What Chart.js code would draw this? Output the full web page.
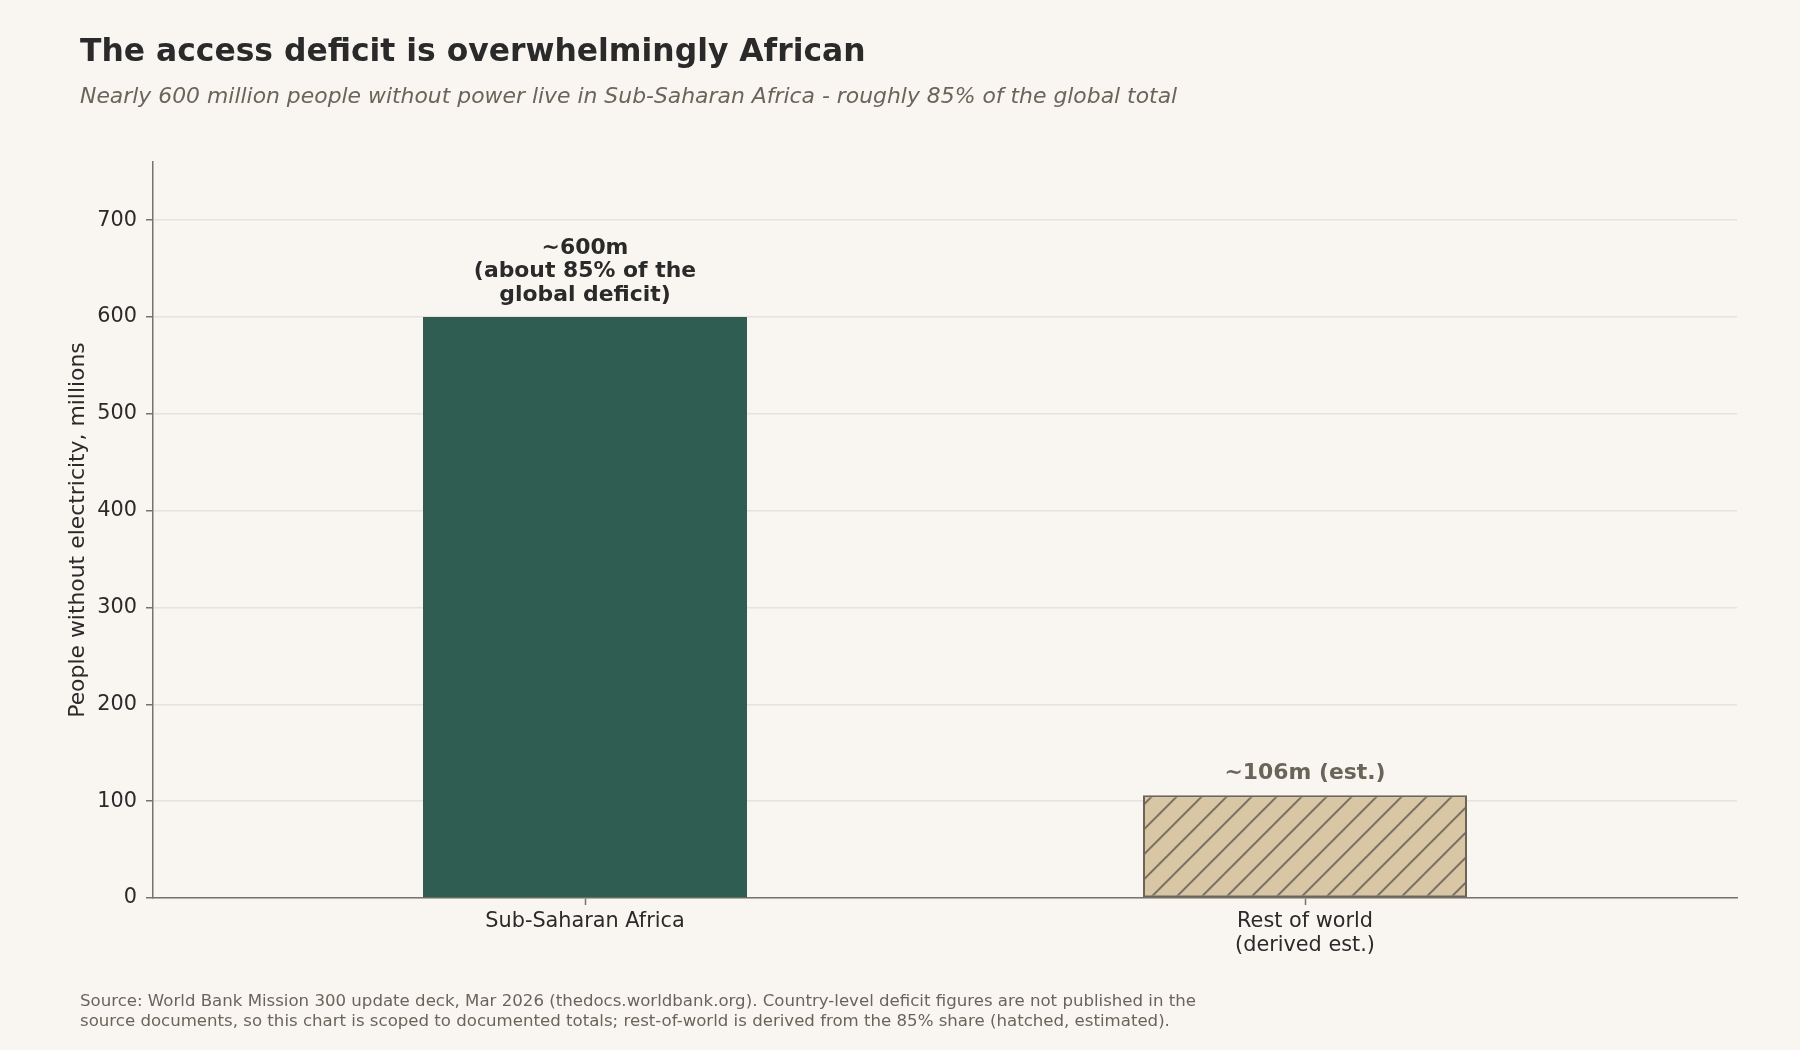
<!DOCTYPE html>
<html>
<head>
<meta charset="utf-8">
<title>The access deficit is overwhelmingly African</title>
<script src="https://cdn.jsdelivr.net/npm/chart.js@4.4.1/dist/chart.umd.min.js"></script>
<style>
  html, body { margin: 0; padding: 0; background: #f9f6f2; }
  #wrap { width: 1800px; height: 1050px; }
</style>
</head>
<body>
<div id="wrap"><canvas id="deficitChart" width="1800" height="1050"></canvas></div>
<script>
// values
const categories = [['Sub-Saharan Africa'], ['Rest of world', '(derived est.)']];
const peopleWithoutPower = [600, 106];
const barLabels = [['~600m', '(about 85% of the', 'global deficit)'], ['~106m (est.)']];
const yTicks = [0, 100, 200, 300, 400, 500, 600, 700];

const FONT = "'DejaVu Sans', 'Liberation Sans', sans-serif";
const bg = '#f9f6f2';
const ink = '#2a2a2a';
const muted = '#6b6459';
const axisColor = '#77726a';
const gridColor = '#e6e2dc';

// "/" hatch for the estimated bar
function hatchPattern() {
  const s = 25;
  const c = document.createElement('canvas');
  c.width = s;
  c.height = s;
  const g = c.getContext('2d');
  g.fillStyle = '#d8c6a5';
  g.fillRect(0, 0, s, s);
  g.strokeStyle = muted;
  g.lineWidth = 1.7;
  g.beginPath();
  g.moveTo(-s, 2 * s); g.lineTo(2 * s, -s);
  g.moveTo(-s, s); g.lineTo(s, -s);
  g.moveTo(0, 2 * s); g.lineTo(2 * s, 0);
  g.stroke();
  const p = g.createPattern(c, 'repeat');
  p.setTransform(new DOMMatrix().translate(-1.7, 0));
  return p;
}

const textPlugin = {
  id: 'textPlugin',
  beforeDraw(chart) {
    const ctx = chart.ctx;
    ctx.save();
    ctx.fillStyle = bg;
    ctx.fillRect(0, 0, chart.width, chart.height);
    ctx.restore();
  },
  afterDraw(chart) {
    const ctx = chart.ctx;
    const area = chart.chartArea;
    const xs = chart.scales.x;
    const ys = chart.scales.y;
    ctx.save();
    ctx.textAlign = 'left';
    ctx.textBaseline = 'alphabetic';

    ctx.fillStyle = ink;
    ctx.font = 'bold 31.4px ' + FONT;
    ctx.fillText('The access deficit is overwhelmingly African', 80, 61);

    ctx.fillStyle = muted;
    ctx.font = 'italic 21.9px ' + FONT;
    ctx.fillText('Nearly 600 million people without power live in Sub-Saharan Africa - roughly 85% of the global total', 80, 102.5);

    ctx.font = '16.6px ' + FONT;
    ctx.fillText('Source: World Bank Mission 300 update deck, Mar 2026 (thedocs.worldbank.org). Country-level deficit figures are not published in the', 80, 1006);
    ctx.fillText('source documents, so this chart is scoped to documented totals; rest-of-world is derived from the 85% share (hatched, estimated).', 80, 1026);

    // y axis title
    ctx.save();
    ctx.translate(78, (area.top + area.bottom) / 2);
    ctx.rotate(-Math.PI / 2);
    ctx.textAlign = 'center';
    ctx.textBaseline = 'middle';
    ctx.fillStyle = ink;
    ctx.font = '21.9px ' + FONT;
    ctx.fillText('People without electricity, millions', 0, 0);
    ctx.restore();

    // value labels above bars
    ctx.textAlign = 'center';
    ctx.font = 'bold 21.9px ' + FONT;
    peopleWithoutPower.forEach((v, i) => {
      const x = xs.getPixelForValue(i);
      const top = ys.getPixelForValue(v);
      const lines = barLabels[i];
      ctx.fillStyle = i === 0 ? ink : muted;
      lines.forEach((line, j) => {
        ctx.fillText(line, x, top - 16 - (lines.length - 1 - j) * 23.5);
      });
    });
    ctx.restore();
  }
};

const ctx = document.getElementById('deficitChart').getContext('2d');
new Chart(ctx, {
  type: 'bar',
  data: {
    datasets: [
      {
        data: peopleWithoutPower.map((v, i) => ({ x: i, y: v })),
        backgroundColor: ['#2f5d51', hatchPattern()],
        borderColor: ['#2f5d51', muted],
        borderWidth: [0, 2],
        borderSkipped: false,
        barPercentage: 0.45,
        categoryPercentage: 1,
      },
    ],
  },
  options: {
    responsive: false,
    animation: false,
    devicePixelRatio: 1,
    layout: { padding: { top: 162, right: 63, left: 0, bottom: 0 } },
    plugins: {
      legend: { display: false },
      tooltip: { enabled: false },
    },
    scales: {
      x: {
        type: 'linear',
        min: -0.6,
        max: 1.6,
        offset: false,
        afterBuildTicks: (scale) => {
          scale.ticks = categories.map((c, i) => ({ value: i }));
        },
        afterFit: (scale) => {
          scale.height = 152;
        },
        ticks: {
          callback: (v) => categories[v],
          autoSkip: false,
          maxRotation: 0,
          padding: 5,
          color: ink,
          font: { family: FONT, size: 20.8, lineHeight: 1.15 },
        },
        grid: {
          offset: false,
          drawOnChartArea: false,
          tickLength: 7,
          tickColor: axisColor,
          tickWidth: 1.5,
        },
        border: { color: axisColor, width: 1.5 },
      },
      y: {
        min: 0,
        max: 760,
        afterBuildTicks: (scale) => {
          scale.ticks = yTicks.map((v) => ({ value: v }));
        },
        afterFit: (scale) => {
          scale.width = 153;
        },
        ticks: {
          padding: 9,
          color: ink,
          font: { family: FONT, size: 20.8 },
        },
        grid: {
          color: gridColor,
          lineWidth: 1.5,
          tickLength: 7,
          tickColor: axisColor,
          tickWidth: 1.5,
        },
        border: { color: axisColor, width: 1.5 },
      },
    },
  },
  plugins: [textPlugin],
});
</script>
</body>
</html>
